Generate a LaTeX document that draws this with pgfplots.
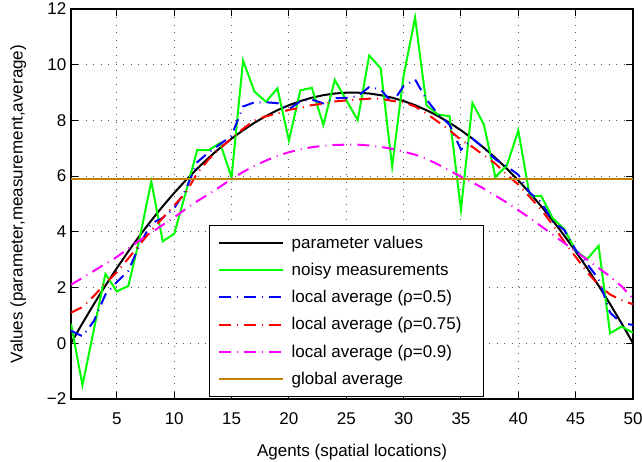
\documentclass[border=0pt]{standalone}
\usepackage{pgfplots}
\pgfplotsset{compat=1.18}
\usepackage{pgfplotstable}
\usepackage{fontspec}
\setmainfont{Liberation Sans}

\definecolor{mgreen}{RGB}{0,255,0}
\definecolor{mblue}{RGB}{0,0,255}
\definecolor{mred}{RGB}{255,0,0}
\definecolor{mmag}{RGB}{255,0,255}
\definecolor{mgold}{RGB}{190,130,10}

% x param noisy rho05 rho075 rho09
\pgfplotstableread{
x  param  noisy  ra    rb    rc
1  0.000  0.70   0.45  1.10  2.10
2  0.720 -1.50   0.25  1.30  2.35
3  1.409  0.50   0.80  1.70  2.60
4  2.069  2.49   1.75  2.15  2.85
5  2.699  1.86   2.20  2.55  3.10
6  3.299  2.06   2.60  3.05  3.40
7  3.868  3.80   3.55  3.55  3.70
8  4.408  5.81   4.30  4.05  3.97
9  4.918  3.66   4.50  4.50  4.25
10 5.398  3.93   4.85  4.95  4.52
11 5.848  5.40   5.50  5.40  4.82
12 6.267  6.93   6.50  6.10  5.10
13 6.657  6.93   6.85  6.60  5.35
14 7.017  7.19   7.15  7.00  5.62
15 7.347  5.95   7.45  7.35  5.90
16 7.647  10.15  8.50  7.70  6.15
17 7.917  9.03   8.65  8.00  6.37
18 8.157  8.67   8.65  8.15  6.56
19 8.366  9.15   8.62  8.25  6.72
20 8.546  7.28   8.40  8.38  6.86
21 8.696  9.08   8.69  8.45  6.96
22 8.816  9.17   8.75  8.55  7.04
23 8.906  7.84   8.61  8.60  7.09
24 8.966  9.45   8.80  8.68  7.12
25 8.996  8.73   8.81  8.72  7.13
26 8.996  8.01   8.87  8.75  7.13
27 8.966  10.33  9.20  8.78  7.10
28 8.906  9.87   9.11  8.78  7.05
29 8.816  6.35   8.63  8.70  6.98
30 8.696  9.60   9.23  8.65  6.88
31 8.546  11.69  9.47  8.50  6.77
32 8.366  8.54   8.75  8.25  6.62
33 8.157  8.21   8.22  7.95  6.42
34 7.917  8.15   7.85  7.65  6.20
35 7.647  4.79   6.95  7.30  5.98
36 7.347  8.63   7.35  7.05  5.78
37 7.017  7.85   7.00  6.75  5.55
38 6.657  5.97   6.60  6.45  5.30
39 6.267  6.38   6.35  6.05  5.05
40 5.848  7.64   6.05  5.70  4.78
41 5.398  5.27   5.40  5.25  4.50
42 4.918  5.29   5.07  4.80  4.20
43 4.408  4.49   4.37  4.25  3.90
44 3.868  4.10   4.07  3.65  3.60
45 3.299  3.33   3.35  3.10  3.30
46 2.699  3.02   2.85  2.55  3.00
47 2.069  3.50   2.30  2.10  2.70
48 1.409  0.36   1.10  1.75  2.40
49 0.720  0.60   0.72  1.55  2.05
50 0.000  0.38   0.66  1.40  1.60
}\agents

\begin{document}
\begin{tikzpicture}[font=\fontsize{12.75pt}{15pt}\selectfont]
\begin{axis}[
  scale only axis,
  width=421.5pt, height=292.5pt,
  xmin=1, xmax=50, ymin=-2, ymax=12,
  xtick={5,10,...,50},
  xticklabels={5,10,15,20,25,30,35,40,45,50},
  ytick={-2,0,...,12},
  yticklabels={−2,0,2,4,6,8,10,12},
  tick align=inside, tick pos=both,
  major tick length=5pt,
  tick style={black, line width=0.8pt},
  axis line style={line width=1.2pt},
  grid=major,
  major grid style={black!65, line width=0.7pt, dash pattern=on 0.7pt off 4.9pt},
  xticklabel style={yshift=-7pt},
  xlabel={Agents (spatial locations)},
  ylabel={Values (parameter,measurement,average)},
  xlabel style={at={(axis description cs:0.5,-0.136)}, anchor=center},
  ylabel style={at={(axis description cs:-0.094,0.5)}, anchor=center},
  legend cell align=left,
  legend image code/.code={\draw[#1] (0pt,0pt) -- (48pt,0pt); \path (52pt,0pt);},
  legend style={at={(axis description cs:0.2456,0.005)}, anchor=south west,
    draw=black, line width=1pt, inner xsep=6pt, inner ysep=5.5pt,
    row sep=5.7pt, font=\fontsize{12.75pt}{15pt}\selectfont},
]
\addplot[black, line width=1.5pt] table[x=x, y=param] {\agents};
\addlegendentry{parameter values}
\addplot[mgreen, line width=1.5pt] table[x=x, y=noisy] {\agents};
\addlegendentry{noisy measurements}
\addplot[mblue, line width=1.5pt, dash pattern=on 9pt off 4.5pt on 0.75pt off 4.5pt] table[x=x, y=ra] {\agents};
\addlegendentry{local average (ρ=0.5)}
\addplot[mred, line width=1.5pt, dash pattern=on 9pt off 4.5pt on 0.75pt off 4.5pt] table[x=x, y=rb] {\agents};
\addlegendentry{local average (ρ=0.75)\hspace*{8.25pt}}
\addplot[mmag, line width=1.5pt, dash pattern=on 9pt off 4.5pt on 0.75pt off 4.5pt] table[x=x, y=rc] {\agents};
\addlegendentry{local average (ρ=0.9)}
\addplot[mgold, line width=1.5pt] coordinates {(1,5.88) (50,5.88)};
\addlegendentry{global average}
\end{axis}
\pgfresetboundingbox
\path ([xshift=-53.25pt,yshift=-47.25pt]current axis.south west) rectangle ([xshift=6.75pt,yshift=6.75pt]current axis.north east);
\end{tikzpicture}
\end{document}
